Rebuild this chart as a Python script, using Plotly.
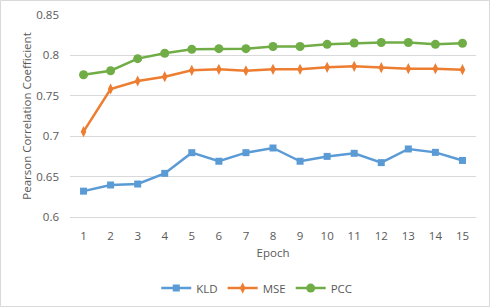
import plotly.graph_objects as go

epochs = list(range(1, 16))
kld = [0.632, 0.6396, 0.6408, 0.654, 0.6796, 0.669, 0.6796, 0.6854, 0.669, 0.675, 0.6788, 0.6673, 0.6842, 0.680, 0.670]
mse = [0.7056, 0.7584, 0.7683, 0.7737, 0.7815, 0.7828, 0.781, 0.7828, 0.7828, 0.7853, 0.7865, 0.7848, 0.7836, 0.7836, 0.7823]
pcc = [0.776, 0.781, 0.796, 0.8026, 0.8075, 0.8083, 0.8083, 0.811, 0.811, 0.8137, 0.8153, 0.816, 0.816, 0.8137, 0.815]
yticks = [0.6, 0.65, 0.7, 0.75, 0.8, 0.85]
ytick_text = ["0.6", "0.65", "0.7", "0.75", "0.8", "0.85"]

fig = go.Figure()
fig.add_trace(go.Scatter(x=epochs, y=kld, name="KLD", mode="lines+markers",
                         line=dict(color="#5B9BD5", width=2.5),
                         marker=dict(symbol="square", size=7, color="#5B9BD5")))
fig.add_trace(go.Scatter(x=epochs, y=mse, name="MSE", mode="lines+markers",
                         line=dict(color="#ED7D31", width=2.5),
                         marker=dict(symbol="diamond-tall", size=8, color="#ED7D31")))
fig.add_trace(go.Scatter(x=epochs, y=pcc, name="PCC", mode="lines+markers",
                         line=dict(color="#70AD47", width=2.5),
                         marker=dict(symbol="circle", size=9, color="#70AD47")))

font = dict(family="Open Sans, Liberation Sans, sans-serif", size=11.5, color="#595959")
fig.update_layout(
    width=490, height=307,
    margin=dict(l=70, r=14, t=15, b=90, autoexpand=False),
    paper_bgcolor="white", plot_bgcolor="white",
    font=font,
    showlegend=True,
    legend=dict(orientation="h", x=0.46, xanchor="center", y=-0.28, yanchor="top",
                font=font, itemwidth=30),
    xaxis=dict(range=[0.5, 15.5], tickmode="array", tickvals=epochs,
               showgrid=False, zeroline=False, showline=True, linecolor="#d9d9d9",
               ticks="", ticklabelstandoff=8, automargin=False,
               title=dict(text="Epoch", font=font, standoff=7)),
    yaxis=dict(range=[0.6, 0.85], tickmode="array", tickvals=yticks, ticktext=ytick_text,
               showgrid=True, gridcolor="#d9d9d9", zeroline=False, showline=False,
               ticks="", ticklabelstandoff=10, automargin=False,
               title=dict(text="Pearson Correlation Coefficient", font=font, standoff=2)),
    shapes=[dict(type="rect", xref="paper", yref="paper",
                 x0=-69.5/406, x1=1+13.5/406, y0=-89.5/202, y1=1+14.5/202,
                 line=dict(color="#d9d9d9", width=1), fillcolor="rgba(0,0,0,0)")],
)

fig.write_html("out.html", config={"displayModeBar": False},
               post_script="document.body.style.margin='0px';")
